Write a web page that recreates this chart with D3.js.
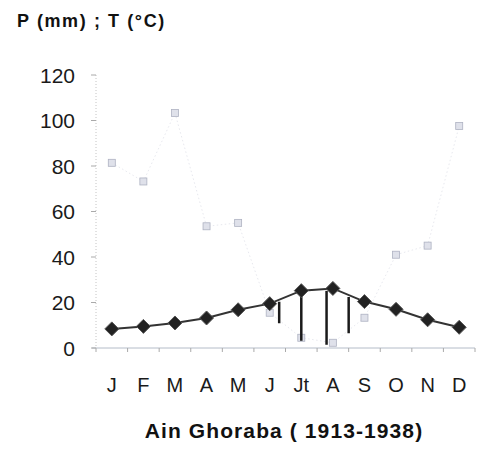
<!DOCTYPE html>
<meta charset="utf-8">
<style>
html, body { margin: 0; padding: 0; background: #fff; overflow: hidden; }
svg { display: block; }
text { font-family: Arial, "Liberation Sans", sans-serif; fill: #111; }
</style>
<svg width="477" height="452"></svg>
<script src="https://d3js.org/d3.v7.min.js"></script>
<script>

// Ain Ghoraba, monthly means
var months = ["J", "F", "M", "A", "M", "J", "Jt", "A", "S", "O", "N", "D"];
var precip = [81.4, 73.2, 103.3, 53.5, 55, 15.5, 4.5, 2.3, 13.3, 41, 45, 97.6];
var temp = [8.4, 9.5, 11, 13.2, 16.8, 19.5, 25.2, 26.2, 20.4, 17, 12.4, 9.1];
var yTicks = [0, 20, 40, 60, 80, 100, 120];
// dry period marks, positions in month index
var dryMarks = [5.3, 6, 6.8, 7.5];

var svg = d3.select("svg");

var x = d3.scaleBand()
    .domain(d3.range(months.length))
    .range([96, 475]);

var y = d3.scaleLinear()
    .domain([0, 120])
    .range([348, 75]);

function cx(i) { return x(i) + x.bandwidth() / 2; }

// value at fractional month index
function interp(arr, t) {
  var i = Math.floor(t), f = t - i;
  if (i >= arr.length - 1) return arr[arr.length - 1];
  return arr[i] + (arr[i + 1] - arr[i]) * f;
}
function xAt(t) { return cx(0) + t * x.step(); }

// axes
svg.append("line")
    .attr("x1", 96).attr("x2", 96)
    .attr("y1", y(120)).attr("y2", y(0))
    .attr("stroke", "#c4c4c4")
    .attr("stroke-dasharray", "1,2");

svg.append("line")
    .attr("x1", 92).attr("x2", 475)
    .attr("y1", y(0)).attr("y2", y(0))
    .attr("stroke", "#b4bcc8")
    .attr("stroke-width", 1);

svg.selectAll(".ytick")
  .data(yTicks)
  .enter().append("line")
    .attr("x1", 91).attr("x2", 96)
    .attr("y1", function(d) { return y(d); })
    .attr("y2", function(d) { return y(d); })
    .attr("stroke", "#aaa");

svg.selectAll(".ylab")
  .data(yTicks)
  .enter().append("text")
    .attr("x", 75)
    .attr("y", function(d) { return y(d); })
    .attr("dy", "0.38em")
    .attr("text-anchor", "end")
    .style("font-size", "21px")
    .style("fill", "#1a1a1a")
    .text(function(d) { return d; });

svg.selectAll(".xtick")
  .data(d3.range(months.length + 1))
  .enter().append("line")
    .attr("x1", function(i) { return 96 + i * x.step(); })
    .attr("x2", function(i) { return 96 + i * x.step(); })
    .attr("y1", y(0)).attr("y2", y(0) + 4)
    .attr("stroke", "#aaa");

svg.selectAll(".xlab")
  .data(months)
  .enter().append("text")
    .attr("x", function(d, i) { return cx(i); })
    .attr("y", 392)
    .attr("text-anchor", "middle")
    .style("font-size", "20px")
    .style("fill", "#1a1a1a")
    .text(function(d) { return d; });

// precipitation
var pLine = d3.line()
    .x(function(d, i) { return cx(i); })
    .y(function(d) { return y(d); });

svg.append("path")
    .datum(precip)
    .attr("d", pLine)
    .attr("fill", "none")
    .attr("stroke", "#dcdee6")
    .attr("stroke-width", 0.7)
    .attr("stroke-dasharray", "1.5,2.5");

svg.selectAll(".pmark")
  .data(precip)
  .enter().append("rect")
    .attr("x", function(d, i) { return cx(i) - 3.5; })
    .attr("y", function(d) { return y(d) - 3.5; })
    .attr("width", 7).attr("height", 7)
    .attr("fill", "#dfe1ea")
    .attr("stroke", "#aeb2c2")
    .attr("stroke-width", 0.8);

// dry period
svg.selectAll(".dry")
  .data(dryMarks)
  .enter().append("line")
    .attr("x1", function(t) { return xAt(t); })
    .attr("x2", function(t) { return xAt(t); })
    .attr("y1", function(t) { return y(interp(temp, t)) + 2; })
    .attr("y2", function(t) { return y(interp(precip, t)) + 3; })
    .attr("stroke", "#1a1a1a")
    .attr("stroke-width", 2.5);

// temperature
var tLine = d3.line()
    .x(function(d, i) { return cx(i); })
    .y(function(d) { return y(d); });

svg.append("path")
    .datum(temp)
    .attr("d", tLine)
    .attr("fill", "none")
    .attr("stroke", "#333")
    .attr("stroke-width", 2);

svg.selectAll(".tmark")
  .data(temp)
  .enter().append("path")
    .attr("transform", function(d, i) { return "translate(" + cx(i) + "," + y(d) + ")"; })
    .attr("d", "M0,-7L7,0L0,7L-7,0Z")
    .attr("fill", "#222")
    .attr("stroke", "#555")
    .attr("stroke-width", 1);

// titles
svg.append("text")
    .attr("x", 17).attr("y", 27)
    .style("font-size", "18px")
    .style("font-weight", "bold")
    .style("letter-spacing", "1.6px")
    .text("P (mm) ; T (°C)");

svg.append("text")
    .attr("x", 284).attr("y", 438)
    .attr("text-anchor", "middle")
    .style("font-size", "21px")
    .style("font-weight", "bold")
    .style("letter-spacing", "1.1px")
    .text("Ain Ghoraba ( 1913-1938)");

</script>
